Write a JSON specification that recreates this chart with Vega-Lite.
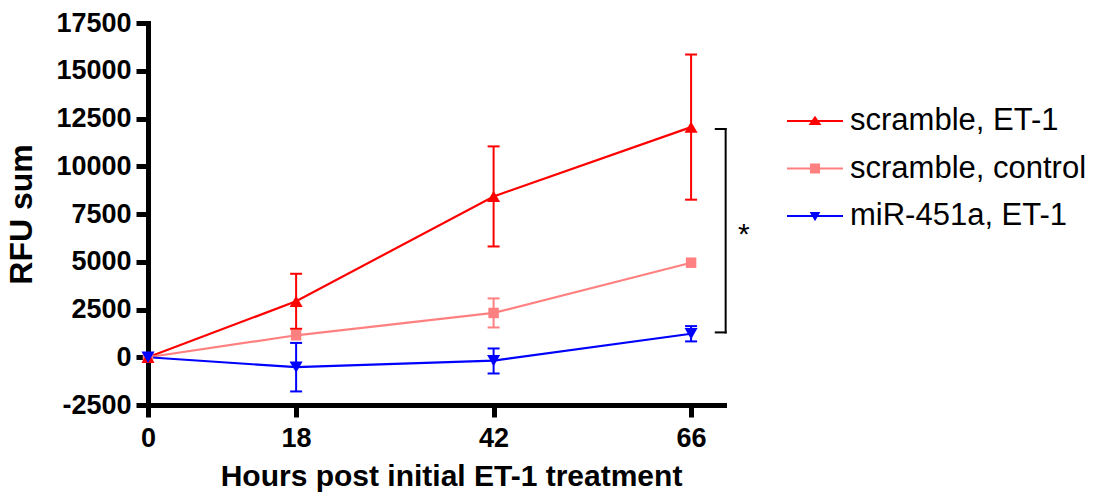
{
  "$schema": "https://vega.github.io/schema/vega-lite/v6.json",
  "width": 576,
  "height": 382,
  "autosize": "none",
  "padding": {"left": 148, "top": 23, "right": 374, "bottom": 93},
  "background": "white",
  "config": {
    "view": {"stroke": null},
    "axis": {
      "domainColor": "black", "domainWidth": 5, "domainCap": "square",
      "tickColor": "black", "tickWidth": 5, "tickSize": 12, "labelFlush": false,
      "labelFont": "Liberation Sans", "labelFontWeight": "bold", "labelFontSize": 27, "labelColor": "black",
      "titleFont": "Liberation Sans", "titleFontWeight": "bold", "titleFontSize": 30, "titleColor": "black",
      "grid": false
    }
  },
  "resolve": {"scale": {"color": "independent", "shape": "independent"}, "legend": {"color": "independent", "shape": "independent"}},
  "datasets": {
    "main": [
      {"series": "scramble, ET-1", "hours": 0, "value": 0, "lo": null, "hi": null},
      {"series": "scramble, ET-1", "hours": 18, "value": 2930, "lo": 1490, "hi": 4370},
      {"series": "scramble, ET-1", "hours": 42, "value": 8420, "lo": 5800, "hi": 11040},
      {"series": "scramble, ET-1", "hours": 66, "value": 12050, "lo": 8250, "hi": 15850},
      {"series": "scramble, control", "hours": 0, "value": 0, "lo": null, "hi": null},
      {"series": "scramble, control", "hours": 18, "value": 1150, "lo": null, "hi": null},
      {"series": "scramble, control", "hours": 42, "value": 2320, "lo": 1560, "hi": 3080},
      {"series": "scramble, control", "hours": 66, "value": 4950, "lo": null, "hi": null},
      {"series": "miR-451a, ET-1", "hours": 0, "value": 0, "lo": null, "hi": null},
      {"series": "miR-451a, ET-1", "hours": 18, "value": -520, "lo": -1790, "hi": 750},
      {"series": "miR-451a, ET-1", "hours": 42, "value": -180, "lo": -850, "hi": 460},
      {"series": "miR-451a, ET-1", "hours": 66, "value": 1230, "lo": 830, "hi": 1630}
    ],
    "bracket": [
      {"hours": 69.0, "hours2": 70.2, "value": 11950, "value2": 11950},
      {"hours": 70.2, "hours2": 70.2, "value": 1300, "value2": 11950},
      {"hours": 69.0, "hours2": 70.2, "value": 1300, "value2": 1300}
    ],
    "star": [
      {"hours": 72.4, "value": 6420, "label": "*"}
    ]
  },
  "layer": [
    {
      "data": {"name": "main"},
      "mark": {"type": "line", "strokeWidth": 2.2},
      "encoding": {
        "x": {"field": "hours", "type": "quantitative", "title": "Hours post initial ET-1 treatment", "scale": {"domain": [0, 70], "nice": false},
              "axis": {"values": [0, 18, 42, 66], "title": "Hours post initial ET-1 treatment", "labelPadding": 8, "titlePadding": 10, "titleX": 303}},
        "y": {"field": "value", "type": "quantitative", "title": "RFU sum", "scale": {"domain": [-2500, 17500], "nice": false, "zero": false},
              "axis": {"values": [-2500, 0, 2500, 5000, 7500, 10000, 12500, 15000, 17500], "format": "d",
                       "labelExpr": "replace(datum.label, '\u2212', '-')",
                       "title": "RFU sum", "titleFontSize": 32, "labelPadding": 5, "titlePadding": 17}},
        "color": {"field": "series", "type": "nominal",
                  "scale": {"domain": ["scramble, ET-1", "scramble, control", "miR-451a, ET-1"], "range": ["#FF0000", "#FF8080", "#0000FF"]},
                  "legend": null}
      }
    },
    {
      "data": {"name": "main"},
      "transform": [{"filter": "datum.lo != null"}],
      "mark": {"type": "rule", "strokeWidth": 2},
      "encoding": {
        "x": {"field": "hours", "type": "quantitative", "title": "Hours post initial ET-1 treatment"},
        "y": {"field": "lo", "type": "quantitative", "title": "RFU sum"},
        "y2": {"field": "hi"},
        "color": {"field": "series", "type": "nominal",
                  "scale": {"domain": ["scramble, ET-1", "scramble, control", "miR-451a, ET-1"], "range": ["#FF0000", "#FF8080", "#0000FF"]},
                  "legend": null}
      }
    },
    {
      "data": {"name": "main"},
      "transform": [{"filter": "datum.lo != null"}],
      "mark": {"type": "tick", "orient": "horizontal", "size": 12, "thickness": 2, "opacity": 1},
      "encoding": {
        "x": {"field": "hours", "type": "quantitative", "title": "Hours post initial ET-1 treatment"},
        "y": {"field": "hi", "type": "quantitative", "title": "RFU sum"},
        "color": {"field": "series", "type": "nominal",
                  "scale": {"domain": ["scramble, ET-1", "scramble, control", "miR-451a, ET-1"], "range": ["#FF0000", "#FF8080", "#0000FF"]},
                  "legend": null}
      }
    },
    {
      "data": {"name": "main"},
      "transform": [{"filter": "datum.lo != null"}],
      "mark": {"type": "tick", "orient": "horizontal", "size": 12, "thickness": 2, "opacity": 1},
      "encoding": {
        "x": {"field": "hours", "type": "quantitative", "title": "Hours post initial ET-1 treatment"},
        "y": {"field": "lo", "type": "quantitative", "title": "RFU sum"},
        "color": {"field": "series", "type": "nominal",
                  "scale": {"domain": ["scramble, ET-1", "scramble, control", "miR-451a, ET-1"], "range": ["#FF0000", "#FF8080", "#0000FF"]},
                  "legend": null}
      }
    },
    {
      "data": {"name": "main"},
      "transform": [{"filter": "datum.series == 'scramble, control'"}],
      "mark": {"type": "point", "shape": "square", "size": 110, "filled": true, "opacity": 1, "color": "#FF8080"},
      "encoding": {
        "x": {"field": "hours", "type": "quantitative", "title": "Hours post initial ET-1 treatment"},
        "y": {"field": "value", "type": "quantitative", "title": "RFU sum"}
      }
    },
    {
      "data": {"name": "main"},
      "transform": [{"filter": "datum.series == 'scramble, ET-1'"}],
      "mark": {"type": "point", "shape": "triangle-up", "size": 170, "filled": true, "opacity": 1, "color": "#FF0000"},
      "encoding": {
        "x": {"field": "hours", "type": "quantitative", "title": "Hours post initial ET-1 treatment"},
        "y": {"field": "value", "type": "quantitative", "title": "RFU sum"}
      }
    },
    {
      "data": {"name": "main"},
      "transform": [{"filter": "datum.series == 'miR-451a, ET-1'"}],
      "mark": {"type": "point", "shape": "triangle-down", "size": 170, "filled": true, "opacity": 1, "color": "#0000FF"},
      "encoding": {
        "x": {"field": "hours", "type": "quantitative", "title": "Hours post initial ET-1 treatment"},
        "y": {"field": "value", "type": "quantitative", "title": "RFU sum"}
      }
    },
    {
      "data": {"name": "bracket"},
      "mark": {"type": "rule", "color": "black", "strokeWidth": 2, "strokeCap": "square"},
      "encoding": {
        "x": {"field": "hours", "type": "quantitative", "title": "Hours post initial ET-1 treatment"},
        "x2": {"field": "hours2"},
        "y": {"field": "value", "type": "quantitative", "title": "RFU sum"},
        "y2": {"field": "value2"}
      }
    },
    {
      "data": {"name": "star"},
      "mark": {"type": "text", "font": "Liberation Sans", "fontSize": 30, "color": "black", "align": "center", "baseline": "middle"},
      "encoding": {
        "x": {"field": "hours", "type": "quantitative", "title": "Hours post initial ET-1 treatment"},
        "y": {"field": "value", "type": "quantitative", "title": "RFU sum"},
        "text": {"field": "label"}
      }
    },
    {
      "data": {"name": "main"},
      "transform": [{"filter": "false"}],
      "mark": {"type": "point", "filled": true, "opacity": 1},
      "encoding": {
        "color": {"field": "series", "type": "nominal",
                  "scale": {"domain": ["scramble, ET-1", "scramble, control", "miR-451a, ET-1"], "range": ["#FF0000", "#FF8080", "#0000FF"]},
                  "legend": {"orient": "none", "legendX": 639, "legendY": 70, "title": null, "symbolSize": 3136, "symbolStrokeWidth": 0,
                             "labelFont": "Liberation Sans", "labelFontSize": 31, "labelColor": "black", "labelOffset": 7, "labelLimit": 400, "rowPadding": 4.5}},
        "shape": {"field": "series", "type": "nominal",
                  "scale": {"domain": ["scramble, ET-1", "scramble, control", "miR-451a, ET-1"],
                            "range": ["M-1,-0.036H1V0.036H-1Z M0,-0.19L0.23,0.14L-0.23,0.14Z",
                                      "M-1,-0.036H1V0.036H-1Z M-0.18,-0.18H0.18V0.18H-0.18Z",
                                      "M-1,-0.036H1V0.036H-1Z M0,0.19L-0.19,-0.14L0.19,-0.14Z"]},
                  "legend": {"orient": "none", "legendX": 639, "legendY": 70, "title": null, "symbolSize": 3136, "symbolStrokeWidth": 0,
                             "labelFont": "Liberation Sans", "labelFontSize": 31, "labelColor": "black", "labelOffset": 7, "labelLimit": 400, "rowPadding": 4.5}}
      }
    }
  ]
}
